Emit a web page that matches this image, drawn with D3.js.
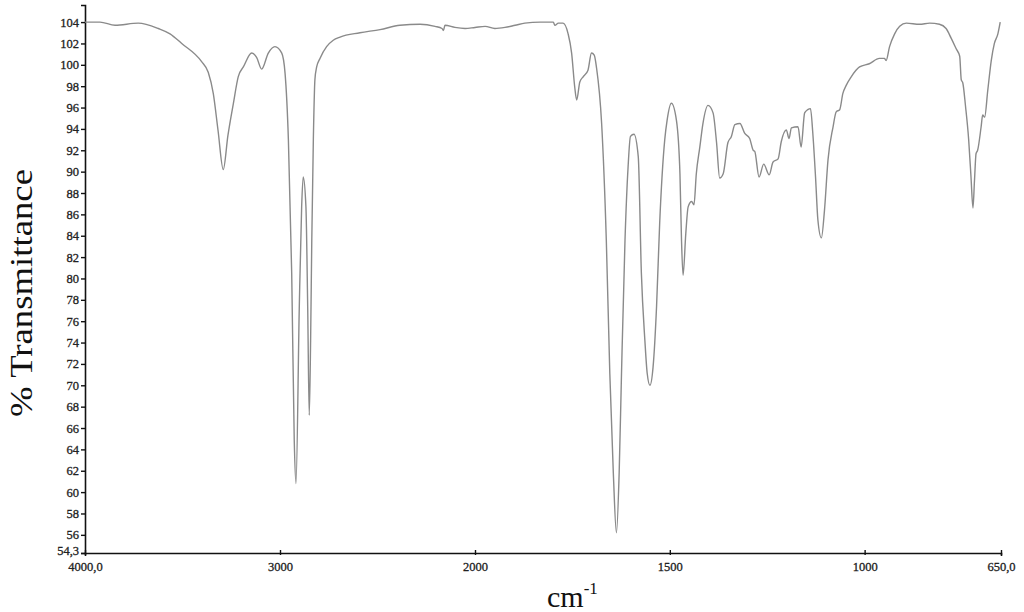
<!DOCTYPE html>
<html>
<head>
<meta charset="utf-8">
<script src="https://cdn.jsdelivr.net/npm/d3@7"></script>
<style>
    body { margin: 0; background: #fff; }
    svg { display: block; }
    .tick text { font-family: "Liberation Serif", "DejaVu Serif", serif !important; }
</style>
</head>
<body>
<div id="chart"></div>
<script>

// wavenumber (cm-1), high to low
let wavenumber = [
    4000, 3923, 3846, 3727, 3624, 3564, 3504, 3402, 3368, 3342, 3318, 3291, 3267, 3239, 3214, 3188,
    3145, 3120, 3094, 3060, 3026, 2991, 2974, 2957, 2940, 2927, 2918, 2901, 2889, 2881, 2867, 2858,
    2850, 2843, 2837, 2829, 2821, 2812, 2795, 2761, 2727, 2692, 2590, 2487, 2385, 2282, 2205, 2169,
    2162, 2154, 2103, 2051, 2000, 1974, 1949, 1923, 1897, 1872, 1833, 1799, 1795, 1786, 1774, 1761,
    1752, 1744, 1739, 1731, 1722, 1710, 1701, 1694, 1688, 1675, 1663, 1654, 1645, 1637, 1630, 1624,
    1615, 1607, 1601, 1592, 1581, 1573, 1564, 1558, 1551, 1543, 1534, 1526, 1513, 1507, 1496, 1483,
    1474, 1470, 1466, 1459, 1453, 1444, 1438, 1432, 1423, 1415, 1402, 1389, 1380, 1372, 1363, 1351,
    1342, 1333, 1320, 1308, 1295, 1286, 1282, 1271, 1259, 1245, 1235, 1222, 1214, 1201, 1194, 1188,
    1171, 1163, 1154, 1146, 1139, 1133, 1126, 1120, 1111, 1103, 1094, 1081, 1073, 1064, 1056, 1047,
    1034, 1013, 988, 962, 949, 945, 936, 923, 910, 893, 859, 833, 808, 791, 778, 765,
    756, 752, 748, 741, 733, 727, 722, 718, 714, 710, 701, 697, 692, 684, 675, 667,
    658, 652
];

// % transmittance at each wavenumber
let transmittance = [
    104.0, 104.0, 103.7, 103.9, 103.4, 102.9, 102.0, 100.3, 99.3, 97.3, 93.9, 90.2, 93.4, 96.4, 98.9, 99.8,
    101.1, 100.7, 99.6, 101.1, 101.7, 101.1, 99.2, 93.0, 80.5, 64.9, 60.8, 77.4, 86.7, 89.5, 86.7, 77.4,
    67.2, 74.2, 83.6, 93.0, 98.6, 99.8, 100.6, 101.7, 102.3, 102.6, 103.0, 103.3, 103.7, 103.8, 103.6, 103.4,
    103.2, 103.7, 103.5, 103.4, 103.5, 103.6, 103.4, 103.5, 103.7, 103.9, 104.0, 104.0, 103.7, 103.9, 103.9, 102.9,
    101.1, 97.9, 96.7, 98.4, 98.9, 99.5, 101.1, 100.9, 99.7, 94.5, 83.6, 71.1, 61.8, 56.2, 61.8, 71.1,
    83.6, 90.5, 93.3, 93.5, 91.4, 80.5, 74.2, 71.1, 70.0, 71.7, 77.4, 85.2, 93.0, 94.8, 96.4, 94.8,
    89.8, 83.6, 80.3, 84.2, 86.7, 87.2, 86.9, 89.8, 92.3, 94.5, 96.2, 95.5, 92.7, 89.4, 89.8, 92.7,
    93.3, 94.4, 94.5, 93.6, 93.1, 92.0, 91.9, 89.5, 90.7, 89.7, 90.9, 91.2, 92.8, 93.9, 93.1, 94.1,
    94.2, 92.3, 95.5, 95.8, 95.9, 93.6, 89.5, 85.5, 83.8, 86.4, 91.1, 94.2, 95.6, 95.8, 97.3, 98.1,
    98.9, 99.8, 100.1, 100.6, 100.6, 100.4, 101.7, 102.9, 103.6, 103.9, 103.8, 103.9, 103.8, 103.4, 102.5, 101.5,
    100.8, 98.6, 98.3, 96.1, 93.0, 89.5, 86.6, 89.2, 91.7, 92.0, 94.2, 95.3, 95.1, 97.6, 100.4, 102.0,
    102.9, 104.0
];

let yTicks = [54.3, 56, 58, 60, 62, 64, 66, 68, 70, 72, 74, 76, 78, 80, 82, 84, 86, 88, 90, 92, 94, 96, 98, 100, 102, 104];
let xTicks = [4000, 3000, 2000, 1500, 1000, 650];

let width = 1024, height = 612;
let margin = {left: 85, right: 23, top: 5, bottom: 59};
let serif = "'Liberation Serif', 'DejaVu Serif', serif";

let svg = d3.select("#chart").append("svg")
    .attr("width", width)
    .attr("height", height);

// the instrument doubles the scale below 2000 cm-1
let x = d3.scaleLinear()
    .domain([4000, 2000, 650])
    .range([margin.left, 475, width - margin.right]);

let y = d3.scaleLinear()
    .domain([54.3, 105.6])
    .range([height - margin.bottom, margin.top]);

let data = wavenumber.map(function(w, i) { return {w: w, t: transmittance[i]}; });

let fmtX = function(d) { return (d === 4000 || d === 650) ? d + ",0" : String(d); };
let fmtY = function(d) { return d === 54.3 ? "54,3" : String(d); };

let yAxis = svg.append("g")
    .attr("transform", "translate(" + margin.left + ",0)")
    .call(d3.axisLeft(y).tickValues(yTicks).tickFormat(fmtY).tickSize(4).tickPadding(2));

let xAxis = svg.append("g")
    .attr("transform", "translate(0," + (height - margin.bottom) + ")")
    .call(d3.axisBottom(x).tickValues(xTicks).tickFormat(fmtX).tickSize(3).tickPadding(6));

[yAxis, xAxis].forEach(function(g) {
    g.attr("font-family", serif).attr("font-size", 12.5);
    g.select(".domain").attr("stroke", "#111").attr("stroke-width", 1.6);
    g.selectAll(".tick line").attr("stroke", "#111").attr("stroke-width", 1.4);
    g.selectAll(".tick text")
        .attr("fill", "#222")
        .attr("stroke", "#222")
        .attr("stroke-width", 0.3);
});
// x ticks stick up a little through the axis
xAxis.selectAll(".tick line").attr("y1", -3).attr("y2", 2);
// lowest y label sits a bit higher so it clears 4000,0
yAxis.selectAll(".tick text").filter(function(d) { return d === 54.3; }).attr("dy", "0.1em");

let line = d3.line()
    .x(function(d) { return x(d.w); })
    .y(function(d) { return y(d.t); })
    .curve(d3.curveMonotoneX);

svg.append("path")
    .datum(data)
    .attr("d", line)
    .attr("fill", "none")
    .attr("stroke", "#8a8a8a")
    .attr("stroke-width", 1.4);

// axis titles
svg.append("text")
    .attr("transform", "translate(32,293) rotate(-90)")
    .attr("text-anchor", "middle")
    .attr("textLength", 248)
    .attr("lengthAdjust", "spacingAndGlyphs")
    .style("font-family", serif)
    .style("font-size", "31px")
    .attr("fill", "#111")
    .text("% Transmittance");

let unit = svg.append("text")
    .attr("x", 547)
    .attr("y", 607)
    .style("font-family", serif)
    .style("font-size", "30px")
    .attr("fill", "#111");
unit.append("tspan").text("cm");
unit.append("tspan")
    .attr("dy", -13)
    .style("font-size", "17px")
    .text("-1");

</script>
</body>
</html>
